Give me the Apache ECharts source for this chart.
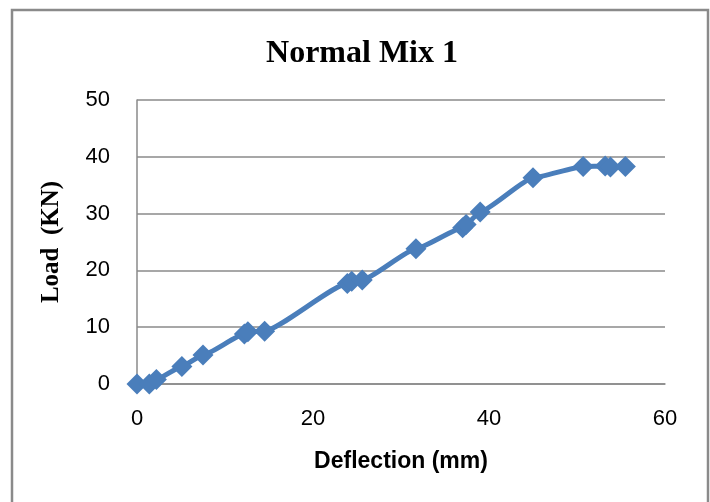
<!DOCTYPE html>
<html>
<head>
<meta charset="utf-8">
<script src="https://cdn.jsdelivr.net/npm/echarts@6/dist/echarts.min.js"></script>
<style>
html,body{margin:0;padding:0;background:#fff;}
#c{width:710px;height:502px;}
</style>
</head>
<body>
<div id="c"></div>
<script>
var deflection = [0, 1.4, 2.2, 5.1, 7.5, 12.2, 12.6, 14.5, 23.9, 24.4, 25.6, 31.7, 37.0, 37.4, 39.0, 45.0, 50.7, 53.2, 53.8, 55.5];
var load = [0, 0, 0.8, 3.1, 5.1, 8.8, 9.2, 9.3, 17.7, 18.1, 18.3, 23.8, 27.5, 28.1, 30.3, 36.3, 38.3, 38.4, 38.2, 38.3];
var titleText = 'Normal Mix 1';
var xName = 'Deflection (mm)';
var yName = 'Load  (KN)';

var pts = deflection.map(function (d, i) { return [d, load[i]]; });

var chart = echarts.init(document.getElementById('c'), null, {renderer: 'canvas'});
chart.setOption({
  animation: false,
  backgroundColor: '#ffffff',
  title: {
    text: titleText,
    left: 357, top: 33, textAlign: 'center',
    textStyle: {fontFamily: 'Liberation Serif', fontWeight: 'bold', fontSize: 32, color: '#000'}
  },
  graphic: [{
    type: 'rect',
    shape: {x: 12, y: 10, width: 696, height: 520},
    style: {fill: 'none', stroke: '#8a8a8a', lineWidth: 2.5},
    silent: true
  }],
  grid: {left: 137, right: 45, top: 100, bottom: 118},
  xAxis: {
    type: 'value', min: 0, max: 60, interval: 20,
    name: xName, nameLocation: 'middle', nameGap: 66,
    nameTextStyle: {fontFamily: 'Liberation Sans', fontWeight: 'bold', fontSize: 23, color: '#000'},
    axisLine: {show: true, lineStyle: {color: '#8a8a8a', width: 1.5}},
    axisTick: {show: false},
    axisLabel: {fontFamily: 'Liberation Sans', fontSize: 22, color: '#000', margin: 24},
    splitLine: {show: false}
  },
  yAxis: {
    type: 'value', min: 0, max: 50, interval: 10,
    name: yName, nameLocation: 'middle', nameGap: 73, nameRotate: 90,
    nameTextStyle: {fontFamily: 'Liberation Serif', fontWeight: 'bold', fontSize: 25, color: '#000'},
    axisLine: {show: true, lineStyle: {color: '#8a8a8a', width: 1.5}},
    axisTick: {show: false},
    axisLabel: {fontFamily: 'Liberation Sans', fontSize: 22, color: '#000', margin: 27},
    splitLine: {show: true, lineStyle: {color: '#8a8a8a', width: 1.5}}
  },
  series: [{
    type: 'line',
    data: pts,
    smooth: 0.15,
    smoothMonotone: 'x',
    symbol: 'diamond',
    symbolSize: 21,
    lineStyle: {color: '#4a7ebb', width: 5},
    itemStyle: {color: '#4a7ebb'}
  }]
});
</script>
</body>
</html>
